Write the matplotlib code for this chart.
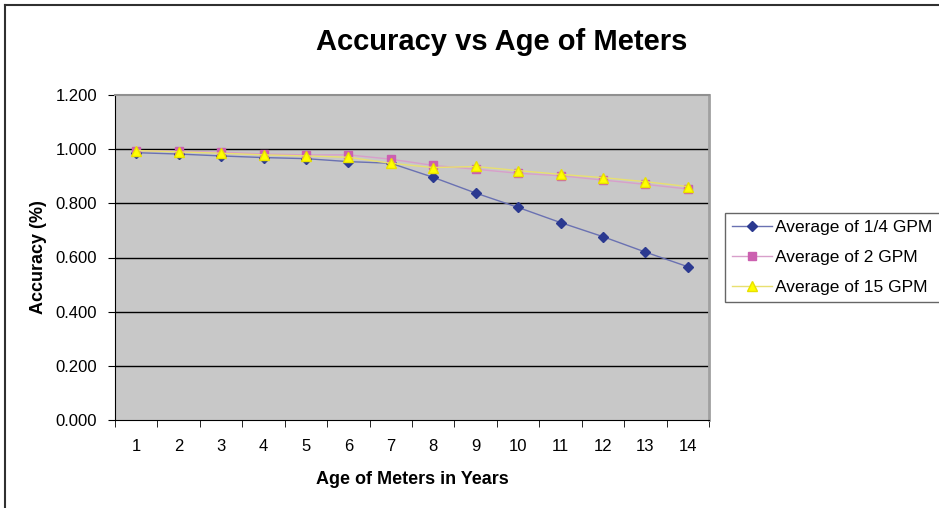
import matplotlib
matplotlib.use("Agg")
import matplotlib.pyplot as plt
from matplotlib.lines import Line2D

years = list(range(1, 15))
quarter_gpm = [0.987, 0.982, 0.975, 0.969, 0.965, 0.954, 0.948, 0.896, 0.838, 0.785, 0.729, 0.677, 0.620, 0.566]
two_gpm = [0.995, 0.992, 0.989, 0.982, 0.979, 0.979, 0.963, 0.940, 0.926, 0.911, 0.902, 0.886, 0.870, 0.853]
fifteen_gpm = [0.995, 0.990, 0.985, 0.979, 0.975, 0.970, 0.948, 0.932, 0.936, 0.921, 0.907, 0.895, 0.880, 0.862]
yticks = [0.0, 0.2, 0.4, 0.6, 0.8, 1.0, 1.2]

plt.rcParams['font.family'] = ['Liberation Sans', 'DejaVu Sans']

fig = plt.figure(figsize=(9.39, 5.08), dpi=100)
ax = fig.add_axes([115/939, 1-420/508, (709-115)/939, (420-95)/508])
ax.set_facecolor('#c8c8c8')

ax.plot(years, quarter_gpm, color='#6a71b2', lw=1.0, marker='D', ms=5.5,
        mfc='#2b3990', mec='#2b3990', label='Average of 1/4 GPM', zorder=3)
ax.plot(years, two_gpm, color='#d89fcb', lw=1.0, marker='s', ms=6,
        mfc='#cc60b0', mec='#cc60b0', label='Average of 2 GPM', zorder=4)
ax.plot(years, fifteen_gpm, color='#e8e070', lw=1.0, marker='^', ms=7,
        mfc='#ffff00', mec='#e8e000', label='Average of 15 GPM', zorder=5)

ax.set_xlim(0.5, 14.5)
ax.set_ylim(0, 1.2)
ax.set_yticks(yticks)
ax.set_yticklabels([f"{v:.3f}" for v in yticks], fontsize=12)
ax.set_xticks(years)
ax.set_xticklabels([str(y) for y in years], fontsize=12)
ax.set_xticks([y + 0.5 for y in range(0, 15)], minor=True)
ax.tick_params(axis='x', which='major', length=0, pad=14)
ax.tick_params(axis='x', which='minor', length=5, direction='out', color='black')
ax.tick_params(axis='y', which='major', length=5, direction='out', pad=8)

for v in yticks[1:-1]:
    ax.axhline(v, color='black', lw=1.0, zorder=1)

ax.spines['left'].set_color('black')
ax.spines['bottom'].set_color('black')
ax.spines['top'].set_color('#909090')
ax.spines['right'].set_color('#a0a0a0')
ax.spines['right'].set_linewidth(2)
ax.spines['top'].set_linewidth(1.5)

ax.set_xlabel('Age of Meters in Years', fontsize=13, fontweight='bold', labelpad=12)
ax.set_ylabel('Accuracy (%)', fontsize=13, fontweight='bold', labelpad=6)
fig.text(502/939, 1-42/508, 'Accuracy vs Age of Meters', ha='center', va='center',
         fontsize=21, fontweight='bold')

leg = fig.legend(loc='upper left', bbox_to_anchor=(725/939, 1-213/508),
                 fontsize=12.5, frameon=True, fancybox=False, handlelength=2.3,
                 borderpad=0.4, labelspacing=0.85, handletextpad=0.2,
                 borderaxespad=0)
leg.get_frame().set_edgecolor('#404040')
leg.get_frame().set_linewidth(1.0)

fig.add_artist(Line2D([5/939, 1], [1-5/508, 1-5/508], color='#303030', lw=1.5, transform=fig.transFigure))
fig.add_artist(Line2D([5/939, 5/939], [0, 1-5/508], color='#303030', lw=1.5, transform=fig.transFigure))

fig.savefig('out.png', dpi=100)
